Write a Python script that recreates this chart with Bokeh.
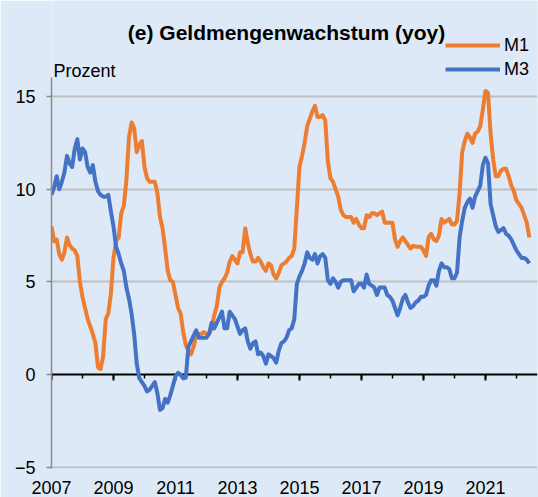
from bokeh.plotting import figure
from bokeh.models import Range1d, FixedTicker, LinearAxis, Label, Legend, LegendItem
from bokeh.embed import file_html
from bokeh.resources import INLINE

# ---- data (monthly, Jan 2007 .. Jun 2022), percent yoy ----
start_year = 2007
m1 = [
    8.0, 7.2, 7.3, 6.5, 6.2, 6.6, 7.4, 7.0, 6.8, 6.7, 6.4, 5.0,
    4.2, 3.6, 3.0, 2.6, 2.2, 1.7, 0.4, 0.3, 1.0, 3.0, 3.3, 4.4,
    6.3, 7.2, 7.4, 8.7, 9.1, 10.5, 12.8, 13.6, 13.3, 12.0, 12.4, 12.6,
    11.2, 10.6, 10.4, 10.4, 10.4, 9.8, 8.5, 7.9, 6.8, 5.6, 5.1, 5.0,
    4.3, 3.6, 3.3, 2.3, 1.6, 1.3, 1.1, 1.5, 2.1, 2.2, 2.2, 2.3,
    2.2, 2.2, 2.5, 3.2, 3.7, 4.7, 5.0, 5.2, 5.5, 6.1, 6.4, 6.2,
    6.0, 6.6, 6.6, 7.9, 7.1, 6.5, 6.1, 6.1, 6.3, 6.1, 5.8, 5.6,
    6.0, 5.9, 5.4, 5.2, 5.5, 5.9, 6.0, 6.1, 6.3, 6.4, 6.8, 9.0,
    11.2, 11.8, 12.5, 13.4, 13.8, 14.2, 14.5, 13.9, 13.9, 14.0, 13.7, 11.5,
    10.6, 10.4, 10.0, 9.6, 8.9, 8.6, 8.5, 8.5, 8.5, 8.2, 8.4, 8.1,
    7.9, 7.9, 8.6, 8.5, 8.7, 8.7, 8.6, 8.7, 8.8, 8.2, 8.2, 8.2,
    8.2, 7.3, 6.9, 7.2, 7.4, 7.2, 7.0, 6.8, 6.95, 6.9, 6.9, 6.9,
    6.7, 6.4, 7.4, 7.6, 7.3, 7.2, 7.5, 8.4, 8.2, 8.3, 8.4, 8.1,
    8.1, 8.3, 9.8, 12.0, 12.6, 13.0, 12.8, 12.5, 13.0, 13.1, 13.4, 14.3,
    15.3, 15.2, 13.0, 11.6, 10.7, 10.7, 11.0, 11.1, 11.1, 10.7, 10.2, 9.9,
    9.4, 9.2, 9.0, 8.6, 8.2, 7.4,
]
m3 = [
    9.7, 10.1, 10.7, 10.0, 10.4, 10.9, 11.8, 11.4, 11.2, 12.2, 12.7, 11.6,
    12.2, 12.0, 11.2, 10.9, 11.3, 10.4, 9.9, 9.7, 9.6, 9.6, 9.7, 8.8,
    8.0, 6.9, 6.5, 6.0, 5.6, 4.7, 4.1, 3.3, 2.2, 0.6, -0.2, -0.4,
    -0.6, -0.9, -0.8, -0.6, -0.4, -1.0, -1.9, -1.8, -1.3, -1.5, -1.1, -0.6,
    -0.1, 0.1, 0.0, -0.2, -0.15, 1.5, 1.8, 2.1, 2.4, 2.0, 2.0, 2.0,
    2.0, 2.2, 2.8, 2.5, 2.8, 3.1, 3.4, 2.5, 2.5, 3.4, 3.2, 3.0,
    2.6, 2.2, 2.4, 2.5, 1.8, 1.4, 1.7, 1.8, 1.1, 1.2, 1.0, 0.6,
    1.1, 1.0, 0.9, 0.65, 1.3, 1.7, 1.8, 2.0, 2.4, 2.5, 3.0, 4.9,
    5.3, 5.6, 6.0, 6.6, 6.3, 6.2, 6.5, 6.0, 6.4, 6.5, 6.3, 5.1,
    4.9, 5.2, 5.0, 4.7, 5.0, 5.1, 5.1, 5.1, 5.1, 4.5, 4.7, 4.9,
    4.9, 4.7, 5.4, 4.9, 4.8, 4.7, 4.3, 4.7, 4.7, 4.7, 4.3, 4.2,
    4.0, 3.6, 3.2, 3.6, 4.1, 4.3, 3.9, 3.6, 3.7, 3.9, 4.0, 4.2,
    4.2, 4.3, 4.8, 5.1, 5.1, 4.8, 5.6, 6.0, 5.8, 5.8, 5.7, 5.2,
    5.2, 5.5, 7.4, 8.3, 9.0, 9.3, 9.5, 9.0, 9.6, 9.9, 10.2, 11.3,
    11.7, 11.4, 9.2, 8.6, 8.0, 7.7, 7.8, 7.9, 7.6, 7.5, 7.3, 7.0,
    6.7, 6.5, 6.3, 6.3, 6.2, 6.0,
]
x_label_years = [2007, 2009, 2011, 2013, 2015, 2017, 2019, 2021]
x_minor_years = list(range(2007, 2023))
y_ticks = [-5, 0, 5, 10, 15]
y_grid = [-5, 5, 10, 15]
title_text = "(e) Geldmengenwachstum (yoy)"
unit_text = "Prozent"

months = [start_year + i / 12 for i in range(len(m1))]

BG = "#dde9f7"
FONT = "Liberation Sans"
FS = "18px"
Y_BOTTOM = -5.054
Y_AXIS_TOP = 16

p = figure(width=538, height=497, output_backend="svg", toolbar_location=None,
           x_range=Range1d(2007, 2022.68), y_range=Range1d(Y_BOTTOM, 20.175),
           min_border_left=51, min_border_right=1, min_border_top=0, min_border_bottom=29)
p.background_fill_color = BG
p.border_fill_color = BG
p.outline_line_color = None

r1 = p.line(months, m1, line_color="#ED7D31", line_width=4, line_join="round")
r3 = p.line(months, m3, line_color="#4472C4", line_width=4, line_join="round")

# grid
p.xgrid.visible = False
p.ygrid.ticker = FixedTicker(ticks=y_grid)
p.ygrid.grid_line_color = "#c0c0c0"
p.ygrid.grid_line_width = 2

# y axis
ya = p.yaxis[0]
ya.ticker = FixedTicker(ticks=y_ticks)
ya.bounds = (Y_BOTTOM, Y_AXIS_TOP)
ya.axis_line_color = "#8c8c8c"
ya.axis_line_width = 1.5
ya.major_tick_line_color = "#8c8c8c"
ya.major_tick_line_width = 1.5
ya.major_tick_out = 5
ya.major_tick_in = 0
ya.minor_tick_line_color = None
ya.major_label_standoff = 11
ya.major_label_text_font = FONT
ya.major_label_text_font_size = FS
ya.major_label_text_color = "black"

# x axis at zero (ticks only)
xa = p.xaxis[0]
xa.fixed_location = 0
xa.ticker = FixedTicker(ticks=x_label_years, minor_ticks=x_minor_years)
xa.axis_line_color = "black"
xa.axis_line_width = 2
xa.major_tick_line_color = "black"
xa.major_tick_line_width = 2
xa.major_tick_out = 6
xa.major_tick_in = 0
xa.minor_tick_line_color = "black"
xa.minor_tick_line_width = 1.5
xa.minor_tick_out = 4
xa.minor_tick_in = 0
xa.major_label_text_alpha = 0
xa.major_label_text_font_size = "1px"
xa.level = "underlay"

# year labels along the bottom
lab = LinearAxis(ticker=FixedTicker(ticks=x_label_years),
                 axis_line_color=None, major_tick_line_color=None, minor_tick_line_color=None,
                 major_tick_out=0, major_tick_in=0, minor_tick_out=0, minor_tick_in=0,
                 major_label_standoff=12, major_label_text_font=FONT,
                 major_label_text_font_size=FS, major_label_text_color="black")
p.add_layout(lab, "below")

# title and unit (screen units, relative to the frame's bottom-left)
p.add_layout(Label(x=235, y=436, x_units="screen", y_units="screen", text=title_text,
                   text_align="center", text_baseline="alphabetic", text_font=FONT,
                   text_font_size="21px", text_font_style="bold", text_color="black"))
p.add_layout(Label(x=2, y=398, x_units="screen", y_units="screen", text=unit_text,
                   text_align="left", text_baseline="alphabetic", text_font=FONT,
                   text_font_size=FS, text_color="black"))

legend = Legend(items=[LegendItem(label="M1", renderers=[r1]),
                       LegendItem(label="M3", renderers=[r3])],
                location=(394, 387), padding=0, margin=0, spacing=0,
                glyph_width=55, glyph_height=24, label_height=24, label_standoff=4,
                label_text_font=FONT, label_text_font_size=FS, label_text_color="black",
                background_fill_alpha=0, border_line_alpha=0)
p.add_layout(legend)

open("out.html", "w").write(file_html(p, INLINE))
